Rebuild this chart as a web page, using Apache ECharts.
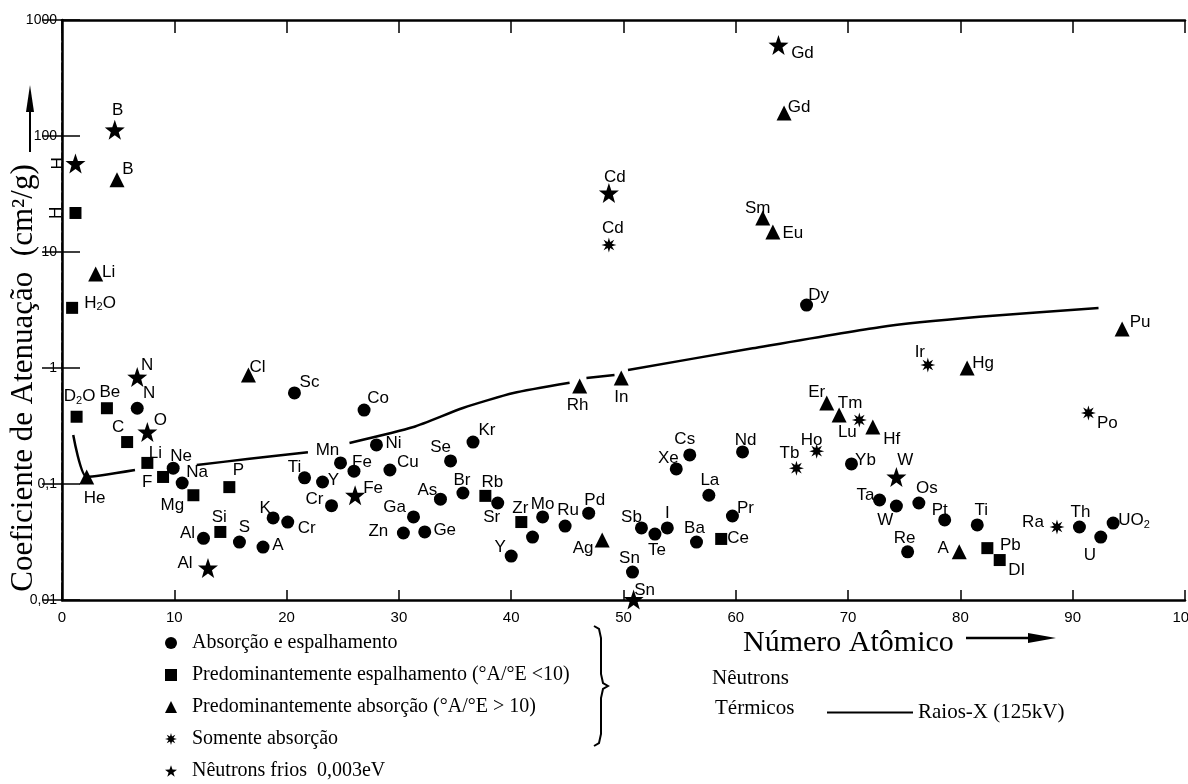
<!DOCTYPE html>
<html>
<head>
<meta charset="utf-8">
<script src="https://cdn.jsdelivr.net/npm/echarts@6/dist/echarts.min.js"></script>
<style>
  html, body { margin: 0; padding: 0; background: #fff; }
  #chart { width: 1188px; height: 784px; }
</style>
</head>
<body>
<div id="chart"></div>
<script>
// absorção e espalhamento (círculos)
var circleNames = ['N', 'Ne', 'Na', 'Al', 'S', 'A', 'K', 'Cr', 'Sc', 'Ti', 'Y', 'Cr', 'Mn', 'Fe', 'Co', 'Ni', 'Cu', 'Zn', 'Ga', 'Ge',
    'As', 'Se', 'Br', 'Kr', 'Sr', 'Y', '', 'Mo', 'Ru', 'Pd', 'Sn', 'Sb', 'Te', 'I', 'Xe', 'Cs', 'Ba', 'La', 'Pr', 'Nd',
    'Dy', 'Yb', 'Ta', 'W', 'Re', 'Os', 'Pt', 'Ti', 'Th', 'U', 'UO2'];
var circleZ = [6.7, 9.9, 10.7, 12.6, 15.8, 17.9, 18.8, 20.1, 20.7, 21.6, 23.2, 24.0, 24.8, 26.0, 26.9, 28.0, 29.2, 30.4, 31.3, 32.3,
    33.7, 34.6, 35.7, 36.6, 38.8, 40.0, 41.9, 42.8, 44.8, 46.9, 50.8, 51.6, 52.8, 53.9, 54.7, 55.9, 56.5, 57.6, 59.7, 60.6,
    66.3, 70.3, 72.8, 74.3, 75.3, 76.3, 78.6, 81.5, 90.6, 92.5, 93.6];
var circleVal = [0.45, 0.137, 0.102, 0.034, 0.0316, 0.0286, 0.051, 0.047, 0.61, 0.113, 0.104, 0.065, 0.152, 0.129, 0.434, 0.217, 0.132, 0.0378, 0.052, 0.0386,
    0.074, 0.158, 0.0836, 0.23, 0.0686, 0.0239, 0.0349, 0.052, 0.0434, 0.056, 0.0174, 0.0418, 0.037, 0.0418, 0.135, 0.178, 0.0316, 0.080, 0.053, 0.189,
    3.49, 0.149, 0.0728, 0.0646, 0.026, 0.0686, 0.049, 0.0444, 0.0426, 0.0349, 0.046];

// predominantemente espalhamento (quadrados)
var squareNames = ['H', 'H2O', 'D2O', 'Be', 'C', 'Li', 'F', 'Mg', 'Si', 'P', 'Rb', 'Zr', 'Ce', 'Pb', 'DI'];
var squareZ = [1.2, 0.9, 1.3, 4.0, 5.8, 7.6, 9.0, 11.7, 14.1, 14.9, 37.7, 40.9, 58.7, 82.4, 83.5];
var squareVal = [21.7, 3.3, 0.38, 0.45, 0.23, 0.152, 0.115, 0.080, 0.0386, 0.094, 0.079, 0.047, 0.0336, 0.028, 0.0221];

// predominantemente absorção (triângulos)
var triNames = ['He', 'Li', 'B', 'Cl', 'Rh', 'Ag', 'In', 'Sm', 'Eu', 'Gd', 'Er', 'Tm', 'Hf', 'A', 'Hg', 'Pu'];
var triZ = [2.2, 3.0, 4.9, 16.6, 46.1, 48.1, 49.8, 62.4, 63.3, 64.3, 68.1, 69.2, 72.2, 79.9, 80.6, 94.4];
var triVal = [0.115, 6.45, 42, 0.87, 0.70, 0.0329, 0.82, 19.6, 14.9, 158, 0.50, 0.394, 0.31, 0.026, 1.0, 2.17];

// somente absorção (asteriscos)
var astNames = ['Cd', 'Tb', 'Ho', 'Lu', 'Ir', 'Ra', 'Po'];
var astZ = [48.7, 65.4, 67.2, 71.0, 77.1, 88.6, 91.4];
var astVal = [11.5, 0.137, 0.192, 0.356, 1.06, 0.0426, 0.41];

// nêutrons frios (estrelas)
var starNames = ['H', 'B', 'N', 'O', 'Al', 'Fe', 'Cd', 'Sn', 'Gd', 'W'];
var starZ = [1.2, 4.7, 6.7, 7.6, 13.0, 26.1, 48.7, 50.9, 63.8, 74.3];
var starVal = [58, 113, 0.835, 0.281, 0.0189, 0.080, 32.3, 0.0101, 608, 0.115];

// raios-X 125 kV (null = trecho interrompido)
var xrayZ = [1.0, 2.2, 6.5, 9.0, 12.0, 16.5, 21.9, 23.7, 25.6, 31.3, 35.7, 40.2, 45.2, 46.0, 46.7, 49.2, 49.8, 50.4, 61.5, 72.8, 81.7, 92.3];
var xrayVal = [0.264, 0.115, 0.132, null, 0.146, 0.164, 0.188, null, 0.226, 0.31, 0.452, 0.608, 0.745, null, 0.82, 0.87, null, 0.96, 1.48, 2.25, 2.76, 3.29];

var xTicks = [0, 10, 20, 30, 40, 50, 60, 70, 80, 90, 100];
var yTickLabels = ['0,01', '0,1', '1', '10', '100', '1000'];

var seriesNames = ['Absorção e espalhamento', 'Predominantemente espalhamento (°A/°E <10)',
    'Predominantemente absorção (°A/°E > 10)', 'Somente absorção', 'Nêutrons frios  0,003eV', 'Raios-X (125kV)'];

// label placement (offset of label centre from the marker, px)
var circleAt = [[12, -15], [8, -12], [15, -11], [-16, -5], [5, -15], [15, -2], [-8, -10], [19, 6], [15, -11], [-10, -11],
    [11, -2], [-17, -6], [-13, -13], [8, -9], [14, -12], [17, -2], [18, -8], [-25, -2], [-19, -10], [20, -2],
    [-13, -9], [-10, -14], [-1, -13], [14, -12], [-6, 14], [-11, -9], [0, 0], [0, -13], [3, -16], [6, -13],
    [-3, -14], [-10, -11], [2, 16], [0, -15], [-8, -11], [-5, -16], [-2, -14], [1, -15], [13, -8], [3, -12],
    [12, -10], [14, -4], [-14, -5], [-11, 14], [-3, -14], [8, -15], [-5, -10], [4, -15], [1, -15], [-11, 18], [21, -3]];
var squareAt = [[0, -19], [28, -5], [3, -20], [3, -16], [-9, -15], [8, -10], [-16, 5], [-21, 10], [-1, -15], [9, -17],
    [7, -14], [-1, -14], [17, -1], [23, -3], [17, 10]];
var triAt = [[8, 21], [13, -2], [11, -10], [9, -8], [-2, 19], [-19, 8], [0, 19], [-5, -10], [20, 1], [15, -6],
    [-10, -11], [11, -12], [19, 12], [-16, -4], [16, -5], [18, -7]];
var astAt = [[4, -17], [-7, -15], [-5, -11], [-12, 12], [-8, -13], [-24, -5], [19, 10]];
var starAt = [[0, -17], [3, -20], [10, -12], [13, -12], [-23, -5], [18, -7], [6, -16], [11, -9], [24, 8], [9, -17]];

function spikes(n, outer, inner) {
    var d = '';
    for (var k = 0; k < 2 * n; k++) {
        var r = k % 2 === 0 ? outer : inner;
        var a = Math.PI * k / n - Math.PI / 2;
        d += (k === 0 ? 'M' : 'L') + (50 + r * Math.cos(a)).toFixed(1) + ',' + (50 + r * Math.sin(a)).toFixed(1) + ' ';
    }
    return 'path://' + d + 'Z';
}

function points(names, zs, vals, at) {
    return zs.map(function (z, i) {
        var item = {name: names[i], value: [z, vals[i]], label: {offset: at[i]}};
        if (names[i] === 'H') item.label.rotate = 90;
        return item;
    });
}

function scatter(name, symbol, size, data) {
    return {
        name: name,
        type: 'scatter',
        symbol: symbol,
        symbolSize: size,
        clip: false,
        itemStyle: {color: '#000', opacity: 1},
        emphasis: {disabled: true},
        label: {
            show: true,
            position: 'inside',
            color: '#000',
            fontFamily: 'Liberation Sans',
            fontSize: 17,
            formatter: function (p) { return p.name.replace(/(\d)/, '{s|$1}'); },
            rich: {s: {fontSize: 11, fontFamily: 'Liberation Sans', color: '#000', verticalAlign: 'bottom', padding: [9, 0, 0, 0]}}
        },
        data: data
    };
}

var chart = echarts.init(document.getElementById('chart'));

var axisBase = {
    type: 'value', min: 0, max: 100, interval: 10,
    axisLine: {lineStyle: {color: '#000', width: 2.5}},
    splitLine: {show: false}
};

var option = {
    backgroundColor: '#fff',
    animation: false,
    grid: {left: 62, right: 3, top: 20, bottom: 184, containLabel: false, outerBoundsMode: 'none'},
    xAxis: [
        Object.assign({}, axisBase, {
            position: 'bottom',
            axisTick: {inside: true, length: 10, lineStyle: {width: 1.5, color: '#000'}},
            axisLabel: {
                color: '#000', fontFamily: 'Liberation Sans', fontSize: 15, margin: 10,
                formatter: function (v) { return xTicks.indexOf(v) >= 0 ? String(v) : ''; }
            }
        }),
        Object.assign({}, axisBase, {
            position: 'top',
            axisTick: {inside: true, length: 13, lineStyle: {width: 1.5, color: '#000'}},
            axisLabel: {show: false}
        })
    ],
    yAxis: [
        {
            type: 'log', logBase: 10, min: 0.01, max: 1000,
            axisLine: {lineStyle: {color: '#000', width: 2.5}},
            axisTick: {inside: true, length: 18, lineStyle: {width: 1.5, color: '#000'}},
            splitLine: {show: false},
            axisLabel: {
                color: '#000', fontFamily: 'Liberation Sans', fontSize: 14, margin: 5,
                formatter: function (v) { return yTickLabels[Math.round(Math.log10(v)) + 2]; }
            }
        },
        {
            type: 'log', logBase: 10, min: 0.01, max: 1000, position: 'right',
            axisLine: {lineStyle: {color: '#000', width: 1.5, type: [7, 3]}},
            axisTick: {inside: true, length: 20, lineStyle: {width: 1.5, color: '#000'}},
            splitLine: {show: false},
            axisLabel: {show: false}
        }
    ],
    legend: [
        {
            orient: 'vertical', left: 165, top: 633, height: 150, padding: 0,
            itemWidth: 12, itemHeight: 12, itemGap: 12,
            selectedMode: false,
            data: seriesNames.slice(0, 5),
            textStyle: {color: '#000', fontFamily: 'Liberation Serif', fontSize: 20, lineHeight: 20, padding: [0, 0, 0, 10]}
        },
        {
            left: 827, top: 702, padding: 0, itemWidth: 86, itemHeight: 2, selectedMode: false,
            data: [{name: seriesNames[5], icon: 'rect'}],
            textStyle: {color: '#000', fontFamily: 'Liberation Serif', fontSize: 21, lineHeight: 21}
        }
    ],
    graphic: [
        {
            type: 'text', x: 24, y: 378, rotation: Math.PI / 2,
            style: {text: 'Coeficiente de Atenuação  (cm²/g)', font: '31px "Liberation Serif"', fill: '#000',
                textAlign: 'center', textVerticalAlign: 'middle'}
        },
        {type: 'line', shape: {x1: 30, y1: 152, x2: 30, y2: 100}, style: {stroke: '#000', lineWidth: 2}},
        {type: 'polygon', shape: {points: [[30, 85], [26, 112], [34, 112]]}, style: {fill: '#000'}},
        {
            type: 'text', x: 743, y: 643,
            style: {text: 'Número Atômico', font: '30px "Liberation Serif"', fill: '#000', textAlign: 'left', textVerticalAlign: 'middle'}
        },
        {type: 'line', shape: {x1: 966, y1: 638, x2: 1035, y2: 638}, style: {stroke: '#000', lineWidth: 2.5}},
        {type: 'polygon', shape: {points: [[1056, 638], [1028, 633], [1028, 643]]}, style: {fill: '#000'}},
        {
            type: 'text', x: 712, y: 678,
            style: {text: 'Nêutrons', font: '21px "Liberation Serif"', fill: '#000', textAlign: 'left', textVerticalAlign: 'middle'}
        },
        {
            type: 'text', x: 715, y: 708,
            style: {text: 'Térmicos', font: '21px "Liberation Serif"', fill: '#000', textAlign: 'left', textVerticalAlign: 'middle'}
        },
        {
            type: 'polyline',
            shape: {points: [[594, 626], [599, 629], [601, 638], [601, 674], [603, 683], [608, 686], [603, 689],
                [601, 698], [601, 734], [599, 743], [594, 746]]},
            style: {stroke: '#000', lineWidth: 2, fill: null}
        }
    ],
    series: [
        scatter(seriesNames[0], 'circle', 13, points(circleNames, circleZ, circleVal, circleAt)),
        scatter(seriesNames[1], 'rect', 12, points(squareNames, squareZ, squareVal, squareAt)),
        scatter(seriesNames[2], 'triangle', 15, points(triNames, triZ, triVal, triAt)),
        scatter(seriesNames[3], spikes(8, 50, 22), 15, points(astNames, astZ, astVal, astAt)),
        scatter(seriesNames[4], spikes(5, 50, 20), 20, points(starNames, starZ, starVal, starAt)),
        {
            name: seriesNames[5],
            type: 'line',
            smooth: 0.2,
            symbol: 'none',
            color: '#000',
            lineStyle: {color: '#000', width: 2.5},
            emphasis: {disabled: true},
            z: 1,
            data: xrayZ.map(function (z, i) { return [z, xrayVal[i] === null ? '-' : xrayVal[i]]; })
        }
    ]
};

chart.setOption(option);
</script>
</body>
</html>
